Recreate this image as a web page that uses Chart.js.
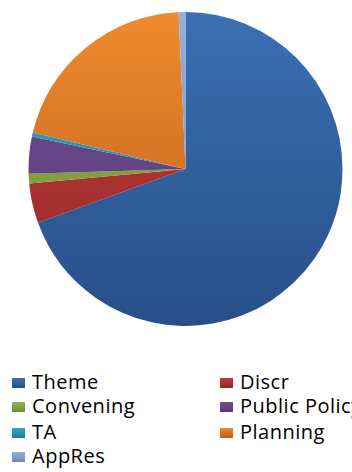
<!DOCTYPE html>
<html>
<head>
<meta charset="utf-8">
<script src="https://cdn.jsdelivr.net/npm/chart.js@4/dist/chart.umd.min.js"></script>
<style>
  html, body { margin: 0; padding: 0; background: #fff; width: 352px; height: 472px; overflow: hidden; }
  #wrap { position: absolute; left: 0; top: 0; width: 352px; height: 340px; }
  #legend { position: absolute; left: 0; top: 370px; width: 352px; height: 102px; overflow: hidden;
            font-family: "Open Sans", sans-serif; font-size: 20px; letter-spacing: 0.5px; color: #000; }
  .item { position: absolute; white-space: nowrap; line-height: 24px; height: 24px; }
  .box { position: absolute; left: 0; top: 8px; width: 13px; height: 10px; }
  .lbl { position: absolute; left: 20px; top: 0; }
</style>
</head>
<body>
<div id="wrap"><canvas id="c" width="352" height="340"></canvas></div>
<div id="legend"></div>
<script>
const categories = ["Theme", "Discr", "Convening", "Public Policy", "TA", "Planning", "AppRes"];
const shares = [69.5, 4.1, 1.0, 3.8, 0.4, 20.6, 0.7];
const topColors = ["#3a70b4", "#c13a38", "#93b948", "#71529a", "#33a9c6", "#ef8a2e", "#94afdc"];
const bottomColors = ["#284f87", "#93292a", "#6e8c33", "#55386f", "#217c94", "#b95f1a", "#7088b8"];

function gradients(ctx) {
  const chart = ctx.chart;
  const area = chart.chartArea;
  if (!area) return topColors[ctx.dataIndex];
  const g = chart.ctx.createLinearGradient(0, area.top, 0, area.bottom);
  g.addColorStop(0, topColors[ctx.dataIndex]);
  g.addColorStop(1, bottomColors[ctx.dataIndex]);
  return g;
}

new Chart(document.getElementById("c"), {
  type: "pie",
  data: {
    labels: categories,
    datasets: [{ data: shares, backgroundColor: gradients, borderWidth: 0 }]
  },
  options: {
    responsive: false,
    animation: false,
    layout: { padding: { left: 28, right: 9, top: 12, bottom: 14 } },
    plugins: { legend: { display: false }, tooltip: { enabled: false } }
  }
});

// HTML legend in two columns
const legend = document.getElementById("legend");
const colX = [12, 220];
const rowY = [0, 24, 50, 74];
categories.forEach((name, i) => {
  const col = i % 2, row = Math.floor(i / 2);
  const item = document.createElement("div");
  item.className = "item";
  item.style.left = colX[col] + "px";
  item.style.top = rowY[row] + "px";
  const box = document.createElement("div");
  box.className = "box";
  box.style.background = "linear-gradient(" + topColors[i] + "," + bottomColors[i] + ")";
  const lbl = document.createElement("span");
  lbl.className = "lbl";
  lbl.textContent = name;
  item.appendChild(box);
  item.appendChild(lbl);
  legend.appendChild(item);
});
</script>
</body>
</html>
